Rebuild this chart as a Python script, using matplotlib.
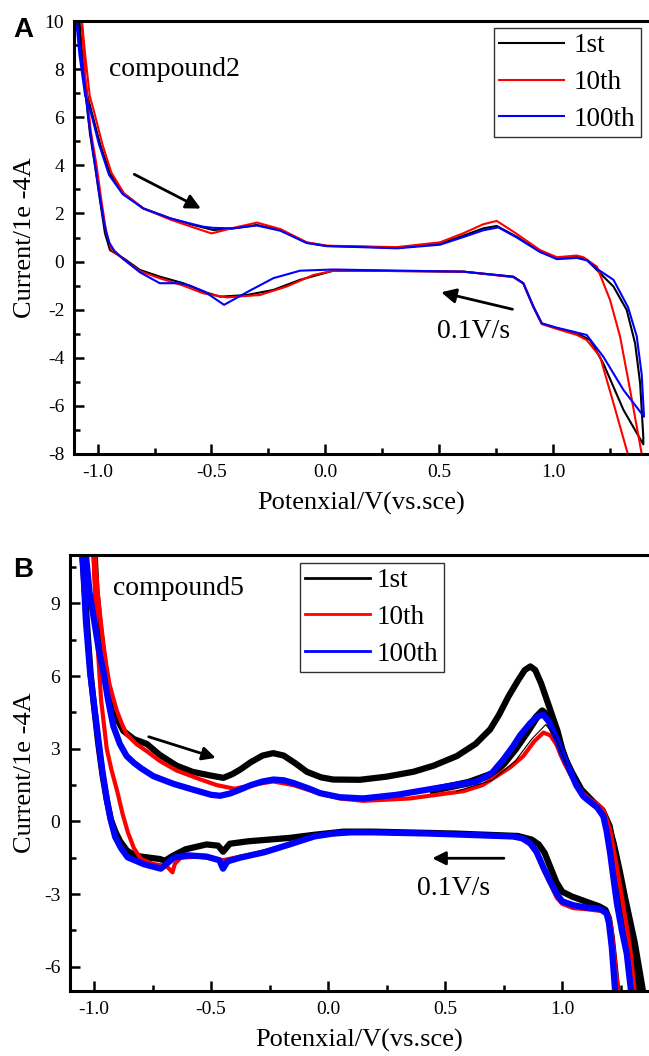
import matplotlib.pyplot as plt
from matplotlib.ticker import MultipleLocator

plt.rcParams['font.family'] = ['Liberation Serif', 'DejaVu Serif']
plt.rcParams['axes.unicode_minus'] = False

# cyclic voltammograms, potential (V vs SCE) and current (1e-4 A)
# each loop: forward scan left -> right, then reverse scan right -> left

# panel A, compound2
a_1st_v = [-1.09, -1.07, -1.045, -1.026, -0.99, -0.946, -0.887, -0.8, -0.682, -0.58, -0.492,
           -0.404, -0.301, -0.197, -0.082, 0.006, 0.153, 0.314, 0.504, 0.607, 0.694, 0.753,
           0.841, 0.943, 1.017, 1.105, 1.149, 1.193, 1.266, 1.324, 1.361, 1.383, 1.397,
           1.397, 1.31, 1.221, 1.163, 1.105, 1.017, 0.951, 0.914, 0.87, 0.826, 0.607, 0.153,
           0.035, -0.111, -0.228, -0.345, -0.462, -0.536, -0.624, -0.726, -0.814, -0.887,
           -0.946, -0.968, -0.99, -1.012, -1.034, -1.06, -1.085]
a_1st_i = [10.6, 8.6, 6.9, 6.2, 4.9, 3.67, 2.84, 2.21, 1.8, 1.52, 1.31,
           1.38, 1.52, 1.31, 0.79, 0.65, 0.62, 0.57, 0.74, 1.08, 1.38, 1.48,
           1.03, 0.41, 0.14, 0.2, 0.07, -0.35, -1.04, -2.01, -3.4, -5.06, -7.3,
           -7.6, -6.17, -4.23, -3.26, -2.98, -2.77, -2.57, -1.87, -0.9, -0.63, -0.42, -0.38,
           -0.38, -0.76, -1.18, -1.39, -1.46, -1.25, -0.9, -0.63, -0.35, 0.14,
           0.48, 1.18, 2.56, 3.99, 5.33, 7.6, 10.6]

a_10th_v = [-1.075, -1.055, -1.035, -1.015, -0.98, -0.94, -0.885, -0.8, -0.682, -0.58, -0.5,
            -0.404, -0.3, -0.197, -0.082, 0.006, 0.153, 0.314, 0.504, 0.607, 0.694, 0.753,
            0.841, 0.943, 1.017, 1.105, 1.134, 1.193, 1.251, 1.295, 1.339, 1.39, 1.40,
            1.40, 1.329, 1.266, 1.207, 1.148, 1.105, 1.017, 0.951, 0.914, 0.87, 0.826, 0.607,
            0.153, 0.035, -0.053, -0.17, -0.287, -0.433, -0.536, -0.624, -0.726, -0.814,
            -0.887, -0.94, -0.962, -0.984, -1.005, -1.03, -1.055, -1.075]
a_10th_i = [10.6, 8.6, 6.9, 6.2, 4.9, 3.7, 2.84, 2.21, 1.75, 1.42, 1.17,
            1.4, 1.62, 1.35, 0.8, 0.66, 0.63, 0.6, 0.8, 1.18, 1.55, 1.69,
            1.15, 0.48, 0.18, 0.25, 0.18, -0.21, -1.6, -3.12, -5.34, -8.0, -10.0,
            -10.0, -8.0, -5.89, -3.95, -3.26, -3.05, -2.8, -2.6, -1.9, -0.92, -0.65, -0.42,
            -0.38, -0.38, -0.56, -1.04, -1.39, -1.49, -1.32, -1.0, -0.7, -0.4,
            0.1, 0.5, 1.2, 2.56, 4.0, 5.4, 7.7, 10.6]

a_100th_v = [-1.1, -1.08, -1.055, -1.03, -0.995, -0.95, -0.89, -0.8, -0.682, -0.58, -0.536,
             -0.492, -0.404, -0.301, -0.197, -0.082, 0.006, 0.153, 0.314, 0.504, 0.607, 0.694,
             0.76, 0.841, 0.943, 1.017, 1.105, 1.149, 1.193, 1.266, 1.33, 1.368, 1.39, 1.40,
             1.40, 1.31, 1.221, 1.148, 1.105, 1.017, 0.951, 0.914, 0.87, 0.826, 0.607, 0.153,
             0.035, -0.111, -0.228, -0.33, -0.445, -0.53, -0.6, -0.64, -0.727, -0.814, -0.887,
             -0.927, -0.95, -0.972, -0.994, -1.016, -1.04, -1.065, -1.1]
a_100th_i = [10.6, 8.6, 6.9, 6.2, 4.9, 3.6, 2.8, 2.21, 1.8, 1.55, 1.45,
             1.4, 1.38, 1.5, 1.28, 0.77, 0.64, 0.6, 0.55, 0.7, 1.02, 1.3,
             1.42, 1.0, 0.4, 0.1, 0.15, 0.05, -0.3, -0.76, -1.9, -3.1, -4.7, -6.45,
             -6.45, -5.34, -3.95, -3.05, -2.95, -2.75, -2.57, -1.87, -0.9, -0.63, -0.42, -0.35,
             -0.33, -0.38, -0.69, -1.2, -1.8, -1.25, -0.98, -0.9, -0.9, -0.45, 0.1,
             0.45, 0.8, 1.6, 2.9, 4.3, 5.9, 8.0, 10.6]

# panel B, compound5
b_1st_v = [-1.0, -0.99, -0.975, -0.96, -0.945, -0.928, -0.9, -0.875, -0.83, -0.775, -0.72,
           -0.647, -0.58, -0.505, -0.448, -0.41, -0.376, -0.33, -0.28, -0.235, -0.19, -0.14,
           -0.091, -0.03, 0.022, 0.136, 0.25, 0.364, 0.45, 0.55, 0.63, 0.692, 0.73, 0.77,
           0.81, 0.84, 0.864, 0.885, 0.91, 0.935, 0.96, 0.98, 1.0, 1.024, 1.05, 1.077, 1.13,
           1.175, 1.2, 1.22, 1.245, 1.27, 1.31, 1.354,
           1.24, 1.225, 1.212, 1.2, 1.185, 1.157, 1.113, 1.042, 1.0, 0.975, 0.95, 0.925, 0.9,
           0.87, 0.811, 0.545, 0.19, 0.066, -0.059, -0.165, -0.342, -0.42, -0.449, -0.47,
           -0.52, -0.609, -0.662, -0.697, -0.72, -0.76, -0.822, -0.86, -0.89, -0.91, -0.928,
           -0.946, -0.964, -0.982, -1.0, -1.015, -1.026, -1.043, -1.055]
b_1st_i = [11.5, 9.5, 8.0, 6.8, 5.8, 5.0, 4.2, 3.74, 3.4, 3.2, 2.75,
           2.3, 2.05, 1.9, 1.8, 1.95, 2.14, 2.45, 2.72, 2.82, 2.72, 2.4,
           2.05, 1.82, 1.73, 1.72, 1.85, 2.05, 2.3, 2.7, 3.2, 3.8, 4.4, 5.15,
           5.8, 6.25, 6.4, 6.25, 5.7, 5.0, 4.3, 3.74, 3.0, 2.33, 1.8, 1.34, 0.78,
           0.35, -0.2, -0.9, -2.0, -3.2, -5.0, -7.5,
           -7.5, -6.0, -4.8, -4.0, -3.65, -3.5, -3.35, -3.1, -2.9, -2.5, -1.9, -1.3, -0.95,
           -0.75, -0.6, -0.5, -0.42, -0.42, -0.55, -0.68, -0.82, -0.92, -1.25, -1.0,
           -0.95, -1.15, -1.41, -1.62, -1.55, -1.5, -1.42, -1.2, -0.8, -0.4, 0.07,
           0.9, 1.91, 3.2, 4.73, 6.1, 7.56, 9.96, 11.5]

# later cycles of the first series, drawn under the 100th band
b_1st_late_v = [0.45, 0.6, 0.7, 0.75, 0.8, 0.85, 0.89, 0.915, 0.94, 0.97, 1.0, 1.04, 1.08,
                1.13, 1.17, 1.2, 1.23, 1.26, 1.29, 1.33]
b_1st_late_i = [1.3, 1.6, 1.95, 2.4, 3.0, 3.7, 4.3, 4.55, 4.3, 3.6, 2.8, 2.0, 1.3,
                0.8, 0.45, -0.2, -1.8, -3.6, -5.3, -7.5]
b_1st_mid_v = [0.55, 0.7, 0.8, 0.87, 0.93, 0.97, 1.02]
b_1st_mid_i = [1.25, 1.7, 2.5, 3.4, 4.0, 3.5, 2.3]

b_10th_v = [-1.0, -0.985, -0.972, -0.96, -0.947, -0.935, -0.92, -0.904, -0.88, -0.861, -0.82,
            -0.775, -0.72, -0.647, -0.55, -0.476, -0.4, -0.3, -0.234, -0.149, -0.035, 0.05,
            0.15, 0.35, 0.578, 0.66, 0.72, 0.78, 0.834, 0.88, 0.92, 0.95, 0.977, 1.01, 1.048,
            1.085, 1.12, 1.15, 1.176, 1.19, 1.205, 1.225, 1.248, 1.27, 1.29, 1.315,
            1.245, 1.23, 1.22, 1.21, 1.2, 1.17, 1.1, 1.048, 1.0, 0.977, 0.95, 0.92, 0.89,
            0.863, 0.83, 0.791, 0.435, 0.1, -0.059, -0.165, -0.3, -0.449, -0.555, -0.63,
            -0.655, -0.665, -0.69, -0.75, -0.8, -0.83, -0.855, -0.878, -0.9, -0.925, -0.946,
            -0.97, -0.99, -1.005]
b_10th_i = [11.5, 9.5, 8.3, 7.3, 6.4, 5.7, 5.15, 4.6, 4.0, 3.6, 3.2,
            2.9, 2.5, 2.1, 1.75, 1.5, 1.35, 1.55, 1.65, 1.5, 1.15, 0.95,
            0.85, 0.95, 1.25, 1.5, 1.87, 2.25, 2.7, 3.3, 3.67, 3.55, 3.15, 2.4, 1.73,
            1.2, 0.9, 0.72, 0.48, 0.1, -0.34, -1.4, -2.7, -4.0, -5.19, -7.5,
            -7.5, -6.2, -5.3, -4.4, -3.9, -3.7, -3.62, -3.58, -3.4, -3.15, -2.6, -2.0, -1.3,
            -0.95, -0.7, -0.65, -0.5, -0.45, -0.62, -0.95, -1.3, -1.6, -1.45, -1.5,
            -1.75, -2.1, -1.85, -1.75, -1.55, -1.1, -0.47, 0.3, 1.2, 2.1, 3.0,
            5.0, 8.0, 11.5]

b_100th_v = [-1.04, -1.02, -1.0, -0.98, -0.96, -0.94, -0.918, -0.89, -0.861, -0.83, -0.8,
             -0.747, -0.66, -0.576, -0.5, -0.462, -0.42, -0.38, -0.33, -0.28, -0.234, -0.19,
             -0.149, -0.08, -0.035, 0.05, 0.15, 0.293, 0.478, 0.635, 0.7, 0.749, 0.79, 0.82,
             0.863, 0.895, 0.92, 0.945, 0.977, 1.005, 1.034, 1.06, 1.09, 1.12, 1.148, 1.176,
             1.19, 1.205, 1.22, 1.234, 1.255, 1.276, 1.30,
             1.23, 1.22, 1.212, 1.2, 1.19, 1.16, 1.1, 1.048, 1.0, 0.977, 0.95, 0.92, 0.89,
             0.863, 0.83, 0.791, 0.435, 0.19, 0.1, 0.02, -0.059, -0.165, -0.272, -0.378,
             -0.43, -0.449, -0.465, -0.52, -0.6, -0.66, -0.69, -0.715, -0.786, -0.857, -0.885,
             -0.91, -0.93, -0.946, -0.965, -0.981, -1.0, -1.017, -1.035, -1.052]
b_100th_i = [11.5, 9.5, 8.3, 7.1, 6.16, 5.0, 3.94, 3.2, 2.7, 2.42, 2.2,
             1.87, 1.55, 1.31, 1.1, 1.06, 1.15, 1.3, 1.5, 1.65, 1.73, 1.7,
             1.59, 1.35, 1.17, 1.0, 0.95, 1.1, 1.4, 1.65, 2.0, 2.56, 3.1, 3.55,
             4.05, 4.35, 4.4, 4.1, 3.4, 2.7, 2.1, 1.5, 1.04, 0.8, 0.6, 0.21,
             -0.4, -1.31, -2.4, -3.39, -4.5, -5.46, -7.5,
             -7.5, -6.2, -5.19, -4.2, -3.8, -3.6, -3.55, -3.46, -3.3, -3.0, -2.5, -1.9, -1.25,
             -0.9, -0.7, -0.62, -0.5, -0.45, -0.45, -0.5, -0.62, -0.95, -1.27, -1.5,
             -1.65, -1.95, -1.6, -1.45, -1.4, -1.5, -1.75, -1.95, -1.77, -1.48, -1.1,
             -0.64, 0.1, 0.92, 2.1, 3.32, 4.8, 6.14, 8.26, 11.5]

labels = ['1st', '10th', '100th']
colors = ['black', 'red', 'blue']

fig = plt.figure(figsize=(6.49, 10.56), dpi=100)
ax1 = fig.add_axes([74 / 649, 1 - 454 / 1056, 575 / 649, 433 / 1056])
ax2 = fig.add_axes([70 / 649, 1 - 991 / 1056, 579 / 649, 436 / 1056])


def style_axes(ax):
    for side in ['left', 'bottom', 'top']:
        ax.spines[side].set_linewidth(2.2)
    ax.spines['right'].set_visible(False)
    ax.tick_params(which='both', direction='in', top=False, right=False, width=1.8)
    ax.tick_params(which='major', length=7, labelsize=14, pad=7)
    ax.tick_params(which='minor', length=4)
    ax.xaxis.set_major_locator(MultipleLocator(0.5))
    ax.xaxis.set_minor_locator(MultipleLocator(0.25))
    ax.set_xlabel('Potenxial/V(vs.sce)', fontsize=19, labelpad=8)
    ax.set_ylabel('Current/1e -4A', fontsize=19, labelpad=6)


# panel A
a_v = [a_1st_v, a_10th_v, a_100th_v]
a_i = [a_1st_i, a_10th_i, a_100th_i]
for v, i, c, lab in zip(a_v, a_i, colors, labels):
    ax1.plot(v, i, color=c, lw=1.5, label=lab)
ax1.set_xlim(-1.104, 1.422)
ax1.set_ylim(-8, 10)
ax1.yaxis.set_major_locator(MultipleLocator(2))
ax1.yaxis.set_minor_locator(MultipleLocator(1))
style_axes(ax1)
ax1.text(-0.95, 8.0, 'compound2', fontsize=20, va='center')
ax1.annotate('', xy=(-0.536, 2.15), xytext=(-0.85, 3.68),
             arrowprops=dict(arrowstyle='-|>', color='black', lw=2, mutation_scale=22))
ax1.annotate('', xy=(0.497, -1.25), xytext=(0.834, -2.01),
             arrowprops=dict(arrowstyle='-|>', color='black', lw=2, mutation_scale=22))
ax1.text(0.489, -2.92, '0.1V/s', fontsize=20, va='center')
leg1 = ax1.legend(loc='upper left', bbox_to_anchor=(0.730, 0.984), borderaxespad=0,
                  fontsize=19.5, handlelength=2.4, handletextpad=0.35, labelspacing=0.43,
                  borderpad=0.2, fancybox=False, edgecolor='#333333', framealpha=1)
leg1.get_frame().set_linewidth(1.0)

# panel B
ax2.plot(b_1st_v, b_1st_i, color='black', lw=4.5, label='1st')
ax2.plot(b_1st_late_v, b_1st_late_i, color='black', lw=5.5)
ax2.plot(b_10th_v, b_10th_i, color='red', lw=3.0, label='10th')
ax2.plot(b_100th_v, b_100th_i, color='blue', lw=4.5, label='100th')
ax2.plot(b_1st_mid_v, b_1st_mid_i, color='black', lw=0.8)
ax2.set_xlim(-1.103, 1.371)
ax2.set_ylim(-7, 11)
ax2.yaxis.set_major_locator(MultipleLocator(3))
ax2.yaxis.set_minor_locator(MultipleLocator(1.5))
style_axes(ax2)
ax2.text(-0.92, 9.6, 'compound5', fontsize=20, va='center')
ax2.annotate('', xy=(-0.469, 2.59), xytext=(-0.778, 3.53),
             arrowprops=dict(arrowstyle='-|>', color='black', lw=2, mutation_scale=20))
ax2.annotate('', xy=(0.433, -1.52), xytext=(0.763, -1.52),
             arrowprops=dict(arrowstyle='-|>', color='black', lw=2, mutation_scale=20))
ax2.text(0.378, -2.76, '0.1V/s', fontsize=20, va='center')
leg2 = ax2.legend(loc='upper left', bbox_to_anchor=(0.397, 0.982), borderaxespad=0,
                  fontsize=19.5, handlelength=2.4, handletextpad=0.25, labelspacing=0.43,
                  borderpad=0.2, fancybox=False, edgecolor='#333333', framealpha=1)
leg2.get_frame().set_linewidth(1.0)
for h in leg2.legend_handles:
    h.set_linewidth(2)

# panel letters
fig.text(13 / 649, 1 - 37 / 1056, 'A', fontsize=20, fontweight='bold', family='Liberation Sans')
fig.text(13 / 649, 1 - 577 / 1056, 'B', fontsize=20, fontweight='bold', family='Liberation Sans')

plt.savefig('out.png', dpi=100)
